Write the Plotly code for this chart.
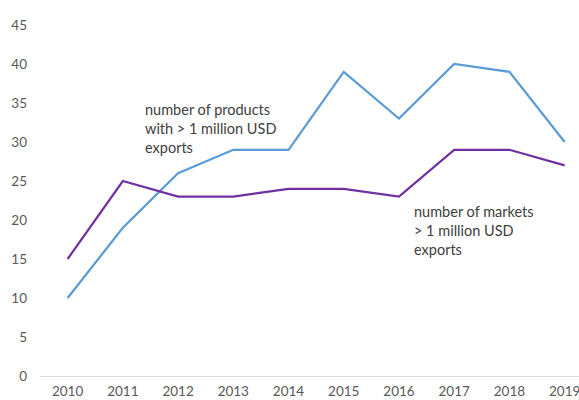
import plotly.graph_objects as go

years = ["2010", "2011", "2012", "2013", "2014", "2015", "2016", "2017", "2018", "2019"]
products = [10, 19, 26, 29, 29, 39, 33, 40, 39, 30]
markets = [15, 25, 23, 23, 24, 24, 23, 29, 29, 27]
y_ticks = [0, 5, 10, 15, 20, 25, 30, 35, 40, 45]

FONT = "Lato, 'Open Sans', sans-serif"

fig = go.Figure()
fig.add_trace(go.Scatter(x=years, y=products, mode="lines",
                         line=dict(color="#5B9BD5", width=2.2), showlegend=False))
fig.add_trace(go.Scatter(x=years, y=markets, mode="lines",
                         line=dict(color="#7030A0", width=2.2), showlegend=False))

fig.add_annotation(x=1.36, y=31.7, text="number of products<br>with > 1 million USD<br>exports",
                   showarrow=False, xanchor="left", yanchor="middle", align="left",
                   font=dict(family=FONT, size=14.5, color="#404040"))
fig.add_annotation(x=6.24, y=18.6, text="number of markets<br>> 1 million USD<br>exports",
                   showarrow=False, xanchor="left", yanchor="middle", align="left",
                   font=dict(family=FONT, size=14.5, color="#404040"))

fig.update_layout(
    width=579, height=400,
    margin=dict(l=40, r=0, t=25, b=24),
    paper_bgcolor="white", plot_bgcolor="white",
    font=dict(family=FONT, size=13, color="#595959"),
)
fig.update_xaxes(type="category", range=[-0.5, 9.26], showgrid=False, zeroline=False,
                 showline=True, linecolor="#D9D9D9", linewidth=1, automargin=False,
                 ticks="", ticklabelstandoff=3, tickfont=dict(size=13.5, color="#595959"))
fig.update_yaxes(range=[0, 45], tickvals=y_ticks, showgrid=False, zeroline=False,
                 showline=False, ticks="", ticklabelstandoff=12, automargin=False,
                 tickfont=dict(size=13.5, color="#595959"))

fig.write_html("out.html")
